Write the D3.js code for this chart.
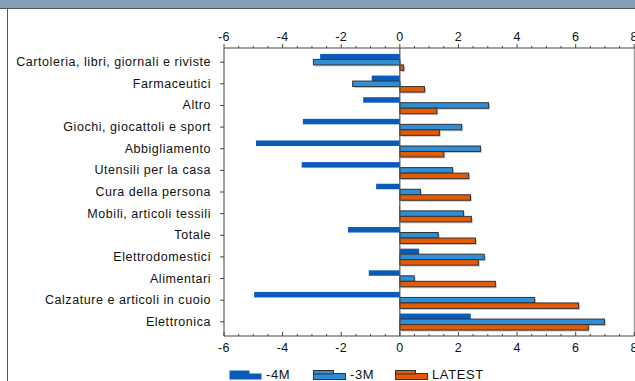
<!DOCTYPE html>
<html>
<head>
<meta charset="utf-8">
<script src="https://cdn.jsdelivr.net/npm/d3@7"></script>
<style>
  body { margin: 0; background: #fff; }
  svg { display: block; font-family: "Liberation Sans", Arial, sans-serif; }
</style>
</head>
<body>
<div id="chart"></div>
<script>
var categories = ["Cartoleria, libri, giornali e riviste", "Farmaceutici", "Altro",
  "Giochi, giocattoli e sport", "Abbigliamento", "Utensili per la casa", "Cura della persona",
  "Mobili, articoli tessili", "Totale", "Elettrodomestici", "Alimentari",
  "Calzature e articoli in cuoio", "Elettronica"];
var m4 = [-2.72, -0.96, -1.25, -3.31, -4.91, -3.35, -0.81, -0.03, -1.77, 0.66, -1.06, -4.97, 2.42];
var m3 = [-2.95, -1.61, 3.03, 2.11, 2.75, 1.80, 0.70, 2.17, 1.31, 2.88, 0.49, 4.60, 6.98];
var latest = [0.13, 0.84, 1.26, 1.35, 1.50, 2.35, 2.41, 2.44, 2.58, 2.68, 3.26, 6.10, 6.43];
var seriesNames = ["-4M", "-3M", "LATEST"];
var xTicks = [-6, -4, -2, 0, 2, 4, 6, 8];

var width = 635, height = 381;
var svg = d3.select("#chart").append("svg")
    .attr("width", width)
    .attr("height", height);

// frame
svg.append("rect").attr("x", 0).attr("y", 0).attr("width", width).attr("height", 8).attr("fill", "#7fa0b6");
svg.append("line").attr("x1", 0).attr("x2", width).attr("y1", 8.5).attr("y2", 8.5).attr("stroke", "#4d5b66");
svg.append("line").attr("x1", 7.5).attr("x2", 7.5).attr("y1", 8).attr("y2", height).attr("stroke", "#4d5b66");

var plotTop = 48, plotBottom = 336, plotLeft = 224, plotRight = 634.3;

var x = d3.scaleLinear().domain([-6, 8]).range([plotLeft, plotRight]);
var y = d3.scaleBand().domain(categories).range([plotTop, plotBottom]).paddingOuter(0.155).paddingInner(0);

var series = [
  {name: seriesNames[0], values: m4, fill: "#0a5cb8", stroke: "none"},
  {name: seriesNames[1], values: m3, fill: "#2f8ed8", stroke: "#333"},
  {name: seriesNames[2], values: latest, fill: "#e45a05", stroke: "#333"}
];
var barH = 5.5;

// plot box lines
svg.append("line").attr("x1", plotLeft).attr("x2", plotLeft).attr("y1", plotTop).attr("y2", plotBottom).attr("stroke", "#444");
svg.append("line").attr("x1", plotRight).attr("x2", plotRight).attr("y1", plotTop).attr("y2", plotBottom).attr("stroke", "#888");

var g = svg.append("g");
series.forEach(function(s, si) {
  var off = -barH * 1.5 + si * barH;
  if (s.stroke !== "none") {
    g.selectAll(".sh" + si).data(s.values).enter().append("rect")
      .attr("x", function(d) { return Math.min(x(0), x(d)) + 1.5; })
      .attr("y", function(d, i) { return y(categories[i]) + y.bandwidth() / 2 + off + 1.5; })
      .attr("width", function(d) { return Math.abs(x(d) - x(0)); })
      .attr("height", barH)
      .attr("fill", "#c8c8c8");
  }
  g.selectAll(".b" + si).data(s.values).enter().append("rect")
    .attr("x", function(d) { return Math.min(x(0), x(d)); })
    .attr("y", function(d, i) { return y(categories[i]) + y.bandwidth() / 2 + off; })
    .attr("width", function(d) { return Math.abs(x(d) - x(0)); })
    .attr("height", barH)
    .attr("fill", s.fill)
    .attr("stroke", s.stroke)
    .attr("stroke-width", 1);
});

// zero line
svg.append("line").attr("x1", x(0)).attr("x2", x(0)).attr("y1", plotTop).attr("y2", plotBottom).attr("stroke", "#555").attr("stroke-width", 1.2);

// axes
function drawXAxis(yPos, dir, labelY) {
  var ax = svg.append("g");
  ax.append("line").attr("x1", plotLeft).attr("x2", plotRight).attr("y1", yPos).attr("y2", yPos).attr("stroke", "#444").attr("stroke-width", 1.2);
  var minor = d3.range(-6, 8.01, 0.5);
  ax.selectAll(".mt").data(minor).enter().append("line")
    .attr("x1", function(d) { return x(d); }).attr("x2", function(d) { return x(d); })
    .attr("y1", yPos).attr("y2", function(d) { return yPos + dir * (d % 2 === 0 ? 4 : 2); })
    .attr("stroke", "#444");
  ax.selectAll(".tl").data(xTicks).enter().append("text")
    .attr("x", function(d) { return x(d); })
    .attr("y", labelY)
    .attr("text-anchor", "middle")
    .attr("font-size", 12.5)
    .attr("letter-spacing", 0.4)
    .attr("fill", "#111")
    .text(function(d) { return d; });
}
drawXAxis(plotTop, -1, 41);
drawXAxis(plotBottom, -1, 352);

// category axis
var ca = svg.append("g");
ca.selectAll("line").data(categories).enter().append("line")
  .attr("x1", plotLeft - 4).attr("x2", plotLeft)
  .attr("y1", function(d) { return y(d) + y.bandwidth() / 2; })
  .attr("y2", function(d) { return y(d) + y.bandwidth() / 2; })
  .attr("stroke", "#444");
ca.selectAll("text").data(categories).enter().append("text")
  .attr("x", plotLeft - 13)
  .attr("y", function(d) { return y(d) + y.bandwidth() / 2 + 4; })
  .attr("text-anchor", "end")
  .attr("font-size", 12.5)
  .attr("letter-spacing", 0.55)
  .attr("fill", "#111")
  .text(function(d) { return d; });

// legend
var legendX = [229, 313, 395];
var lg = svg.append("g");
series.forEach(function(s, i) {
  var lx = legendX[i], ly = 370;
  var stroke = s.stroke === "none" ? "none" : "#333";
  lg.append("rect").attr("x", lx + 0.5).attr("y", ly + 3.5).attr("width", 32).attr("height", 6)
    .attr("fill", s.fill).attr("stroke", stroke);
  lg.append("rect").attr("x", lx + 0.5).attr("y", ly + 0.5).attr("width", 20).attr("height", 3.5)
    .attr("fill", s.fill).attr("stroke", stroke);
  lg.append("text").attr("x", lx + 37).attr("y", ly + 8.5)
    .attr("font-size", 13).attr("letter-spacing", 0.6)
    .attr("fill", "#111").text(s.name);
});
</script>
</body>
</html>
